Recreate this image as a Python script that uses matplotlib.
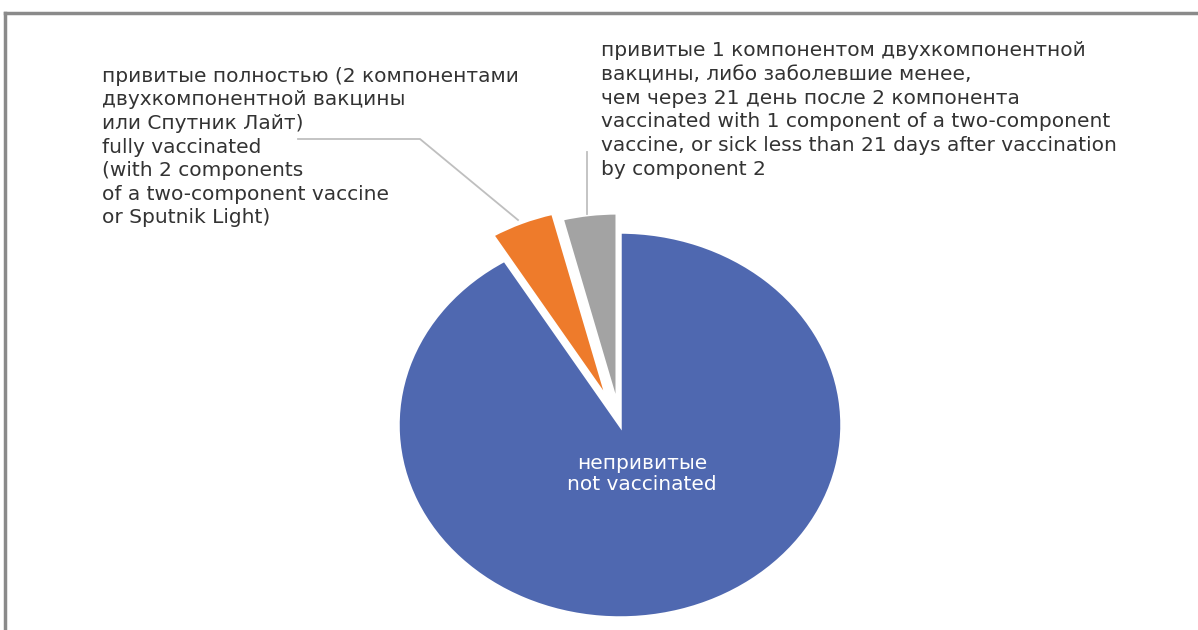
import matplotlib.pyplot as plt
from matplotlib.lines import Line2D

# Доли групп (%)
groups = ['непривитые\nnot vaccinated',
          'привитые полностью (2 компонентами\nдвухкомпонентной вакцины\nили Спутник Лайт)\n'
          'fully vaccinated\n(with 2 components\nof a two-component vaccine\nor Sputnik Light)',
          'привитые 1 компонентом двухкомпонентной\nвакцины, либо заболевшие менее,\n'
          'чем через 21 день после 2 компонента\nvaccinated with 1 component of a two-component\n'
          'vaccine, or sick less than 21 days after vaccination\nby component 2']
shares = [91.3, 4.7, 4.0]
colors = ['#4F68B0', '#EE7B2B', '#A3A3A3']
explode = [0.0, 0.14, 0.1]

W, H = 1198, 630
plt.rcParams['font.family'] = ['DejaVu Sans']

fig = plt.figure(figsize=(W / 100, H / 100), dpi=100)


def fx(x):
    return x / W


def fy(y):
    return 1 - y / H


# Оси под эллипс диаграммы
cx, cy, rx, ry = 620, 425, 222, 193
ax = fig.add_axes([fx(cx - rx), fy(cy + ry), 2 * rx / W, 2 * ry / H])
wedges, _ = ax.pie(shares, colors=colors, explode=explode, startangle=90,
                   counterclock=False, radius=1,
                   wedgeprops=dict(edgecolor='white', linewidth=2.5))
for w in wedges:
    w.set_clip_on(False)
ax.set_aspect('auto')
ax.set_xlim(-1, 1)
ax.set_ylim(-1, 1)
ax.axis('off')

# Подписи
fs = 14.5
txt = '#333333'
fig.text(fx(642), fy(474), groups[0], color='white', ha='center', va='center',
         fontsize=fs, linespacing=1.15)
fig.text(fx(102), fy(147), groups[1], color=txt, ha='left', va='center',
         fontsize=fs, linespacing=1.31)
fig.text(fx(601), fy(110), groups[2], color=txt, ha='left', va='center',
         fontsize=fs, linespacing=1.31)

# Линии-выноски
lc = '#BFBFBF'
fig.add_artist(Line2D([fx(298), fx(420), fx(518)], [fy(139), fy(139), fy(220)],
                      color=lc, lw=1.3))
fig.add_artist(Line2D([fx(587), fx(587)], [fy(152), fy(214)], color=lc, lw=1.3))

# Рамка
fig.add_artist(Line2D([fx(5), fx(W)], [fy(13), fy(13)], color='#8A8A8A', lw=2.5))
fig.add_artist(Line2D([fx(5), fx(5)], [fy(13), fy(H)], color='#8A8A8A', lw=2.5))

plt.savefig('out.png', dpi=100, facecolor='white')
